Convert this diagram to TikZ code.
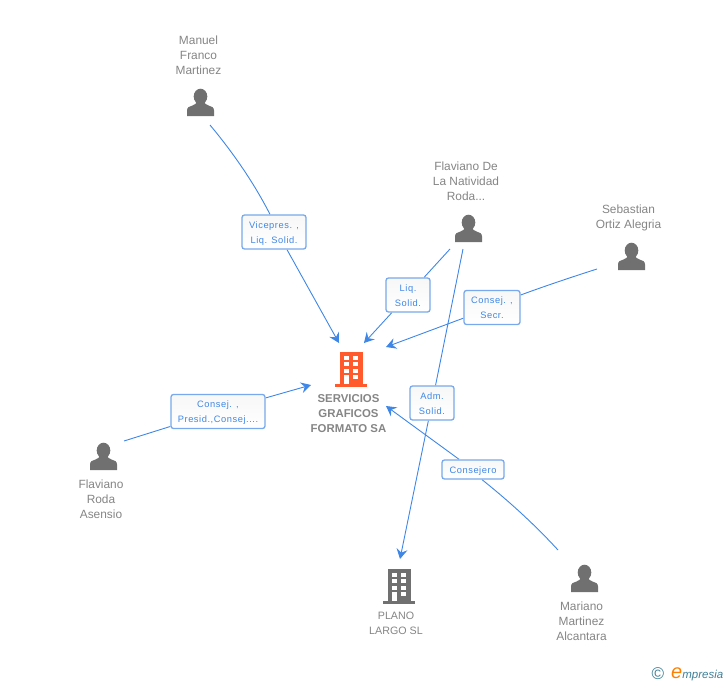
\documentclass[tikz,border=0pt]{standalone}
\usepackage{fontspec}
\setmainfont{Liberation Sans}
\usetikzlibrary{arrows.meta,backgrounds}
\definecolor{linkblue}{HTML}{3F87E6}
\definecolor{boxblue}{HTML}{78A9EC}
\definecolor{icongray}{HTML}{707070}
\definecolor{textgray}{HTML}{858585}
\definecolor{orangeb}{HTML}{FF5A2C}
\definecolor{logoteal}{HTML}{3F7F97}
\newcommand{\rolerow}[1]{\raisebox{-1.2pt}[7pt][2pt]{#1}}
\tikzset{
  x=1pt,y=-1pt,
  namelabel/.style={font=\fontsize{11.9}{15}\selectfont,text=textgray,align=center,inner sep=0pt,anchor=north},
  rolebox/.style={draw=boxblue,line width=1.3pt,rounded corners=2.5pt,top color=black!3,bottom color=white,text=linkblue,align=center,
    font=\fontsize{9.3}{15}\selectfont\addfontfeatures{LetterSpace=6},inner sep=0pt,minimum height=34pt},
  link/.style={draw=linkblue,line width=0.9pt},
  arrowlink/.style={link,-{Stealth[length=10pt,width=11pt,inset=3.5pt]}},
  person/.pic={
    \fill[icongray] (0,-6) ellipse (6.8 and 7.8);
    \fill[icongray] (-13.5,13.5) -- (-13.5,8) .. controls (-13.5,4.5) and (-11,4) .. (-8,3) .. controls (-5,2) and (-4,1) .. (-4,-1) -- (4,-1) .. controls (4,1) and (5,2) .. (8,3) .. controls (11,4) and (13.5,4.5) .. (13.5,8) -- (13.5,13.5) -- cycle;
  },
  building/.pic={
    \fill[pic actions] (-11.5,-17) rectangle (11.5,15);
    \fill[pic actions] (-16,15) rectangle (16,17.5);
    \foreach \yy in {-13.5,-7,-0.5}{
      \fill[white] (-7.5,\yy) rectangle (-2.5,\yy+4.2);
      \fill[white] (2,\yy) rectangle (7,\yy+4.2);
    }
    \fill[white] (-7.5,6) rectangle (-2.5,15);
    \fill[white] (2,6) rectangle (7,10.2);
  }
}
\begin{document}
\begin{tikzpicture}
\useasboundingbox (0,0) rectangle (728,685);
% free ends
\coordinate (mStart) at (210,125);
\coordinate (fdStartA) at (450,249);
\coordinate (fdStartB) at (463,249);
\coordinate (sStart) at (597,269);
\coordinate (frStart) at (124,441);
\coordinate (maStart) at (558,550);
\coordinate (tipM) at (339,343);
\coordinate (tipF) at (364,343);
\coordinate (tipS) at (386,347);
\coordinate (tipR) at (311,385);
\coordinate (tipMa) at (386,406);
\coordinate (tipP) at (400,559);
% role boxes
\node[rolebox,minimum width=64pt] (b1) at (274,232) {\rolerow{Vicepres. ,}\\\rolerow{Liq. Solid.}};
\node[rolebox,minimum width=44pt] (b2) at (408,295) {\rolerow{Liq.}\\\rolerow{Solid.}};
\node[rolebox,minimum width=56pt] (b3) at (492,307.5) {\rolerow{Consej. ,}\\\rolerow{Secr.}};
\node[rolebox,minimum width=94pt] (b4) at (218,411.5) {\rolerow{Consej. ,}\\\rolerow{Presid.,Consej....}};
\node[rolebox,minimum width=44pt] (b5) at (432,403) {\rolerow{Adm.}\\\rolerow{Solid.}};
\node[rolebox,minimum width=62pt,minimum height=19pt] (b6) at (473,469.5) {\rolerow{Consejero}};
% connectors, behind the boxes
\begin{scope}[on background layer]
\draw[link] (mStart) .. controls (235,155) and (255,185) .. ([xshift=-4pt]b1.north);
\draw[arrowlink] ([xshift=13pt]b1.south) -- (tipM);
\draw[link] (fdStartA) -- (b2);
\draw[arrowlink] (b2) -- (tipF);
\draw[link] (sStart) .. controls (575,276) and (545,286) .. ([yshift=12.5pt]b3.east);
\draw[arrowlink] (b3) -- (tipS);
\draw[link] (frStart) -- (b4);
\draw[arrowlink] (b4) -- (tipR);
\draw[link] (fdStartB) -- (b5);
\draw[arrowlink] (b5) -- (tipP);
\draw[link] (maStart) .. controls (535,525) and (510,502) .. ([xshift=9pt]b6.south);
\draw[arrowlink] (b6) -- (tipMa);
\end{scope}
% people
\pic at (200.5,102.5) {person};
\pic at (468.5,228.5) {person};
\pic at (631.5,256.5) {person};
\pic at (103.5,456.5) {person};
\pic at (584.5,578.5) {person};
% buildings
\pic[fill=orangeb] at (351,369) {building};
\pic[fill=icongray] at (399,586) {building};
% names
\node[namelabel] (n1) at (198.5,36) {Manuel\\Franco\\Martinez};
\node[namelabel] (n2) at (466,162) {Flaviano De\\La Natividad\\Roda...};
\node[namelabel] (n3) at (628.5,205) {Sebastian\\Ortiz Alegria};
\node[namelabel] (n4) at (101,480) {Flaviano\\Roda\\Asensio};
\node[namelabel] (n5) at (581.5,602) {Mariano\\Martinez\\Alcantara};
\node[namelabel,font=\fontsize{10.7}{15}\selectfont] (n6) at (396,611.5) {PLANO\\LARGO SL};
\node[namelabel,font=\fontsize{11.4}{15}\selectfont\bfseries] (n7) at (348.5,394) {SERVICIOS\\GRAFICOS\\FORMATO SA};
% logo
\node[inner sep=0pt,anchor=center,text=logoteal,font=\fontsize{17}{17}\selectfont] (c) at (658,674) {©};
\node[inner sep=0pt,anchor=base west,font=\fontsize{11.5}{12}\selectfont\itshape] (e) at (671,678) {\textcolor{orange}{\fontsize{20}{20}\selectfont e}\textcolor{logoteal}{mpresia}};
\end{tikzpicture}
\end{document}
